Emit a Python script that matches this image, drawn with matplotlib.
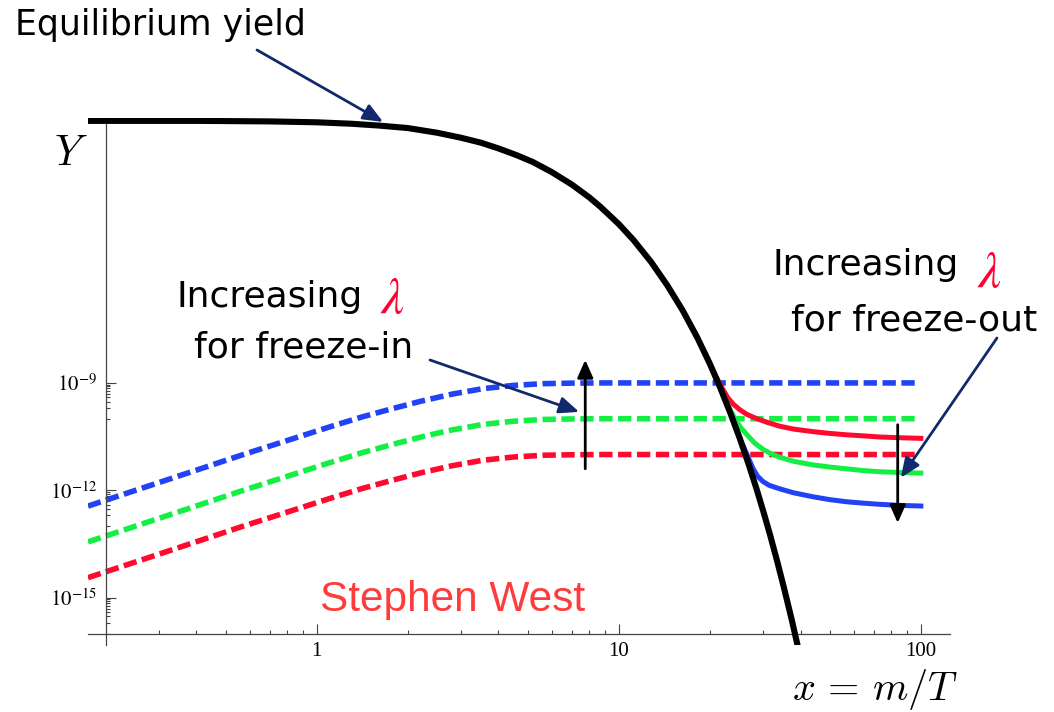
import matplotlib
matplotlib.use("Agg")
import matplotlib.pyplot as plt
from matplotlib.ticker import NullFormatter

W, H = 1054, 712

plt.rcParams["font.family"] = "Liberation Serif"
plt.rcParams["mathtext.fontset"] = "stix"

# equilibrium yield Y_eq(x), values as log10(Y)
eq_x = [0.172, 0.4, 0.7, 1.0, 1.3, 1.6, 2.0, 2.5, 3.0, 3.5, 4.0, 4.6, 5.2,
        6.0, 7.0, 8.0, 8.7, 10.0, 11.2, 12.8, 14.5, 16.3, 18.2, 20.0, 21.7,
        23.4, 25.2, 27.0, 28.7, 30.2, 31.7, 33.5, 35.2, 37.3, 39.5]
eq_logy = [-1.68, -1.68, -1.695, -1.72, -1.76, -1.81, -1.88, -2.01, -2.15,
           -2.29, -2.45, -2.64, -2.83, -3.11, -3.46, -3.82, -4.08, -4.56,
           -5.01, -5.62, -6.28, -6.98, -7.73, -8.45, -9.14, -9.83, -10.56,
           -11.30, -12.0, -12.62, -13.24, -13.99, -14.70, -15.57, -16.49]

# freeze-in yields (dashed)
fi_x = [0.175, 0.224, 0.282, 0.355, 0.447, 0.562, 0.708, 0.891, 1.122, 1.413,
        1.778, 2.239, 2.818, 3.548, 4.467, 5.623, 7.079, 8.913, 95.5]
fi_blue_logy = [-12.44, -12.14, -11.86, -11.58, -11.30, -11.02, -10.75, -10.48,
                -10.21, -9.95, -9.72, -9.50, -9.31, -9.16, -9.07, -9.02,
                -9.005, -9.0, -9.0]
fi_green_logy = [-13.44, -13.14, -12.86, -12.58, -12.30, -12.02, -11.75, -11.48,
                 -11.21, -10.95, -10.72, -10.50, -10.31, -10.16, -10.07, -10.02,
                 -10.005, -10.0, -10.0]
fi_red_logy = [-14.44, -14.14, -13.86, -13.58, -13.30, -13.02, -12.75, -12.48,
               -12.21, -11.95, -11.72, -11.50, -11.31, -11.16, -11.07, -11.02,
               -11.005, -11.0, -11.0]

# freeze-out yields (solid)
fo_red_x = [19.0, 20.0, 21.0, 22.0, 23.0, 24.0, 25.2, 26.6, 28.5, 31.0, 34.2,
            38.0, 44.0, 50.0, 57.0, 65.0, 73.0, 85.0, 102.0]
fo_red_logy = [-8.05, -8.45, -8.82, -9.14, -9.42, -9.60, -9.75, -9.88, -9.99,
               -10.10, -10.21, -10.29, -10.36, -10.41, -10.45, -10.48, -10.51,
               -10.53, -10.55]
fo_green_x = [19.0, 20.0, 21.7, 23.0, 24.0, 25.2, 26.6, 28.2, 30.1, 32.0, 34.2,
              38.0, 44.0, 50.0, 57.0, 65.0, 73.0, 85.0, 102.0]
fo_green_logy = [-8.05, -8.45, -9.14, -9.62, -9.93, -10.22, -10.45, -10.68,
                 -10.86, -10.98, -11.08, -11.19, -11.29, -11.35, -11.40, -11.45,
                 -11.48, -11.50, -11.52]
fo_blue_x = [19.0, 20.0, 21.7, 23.4, 25.2, 26.6, 27.8, 28.8, 30.0, 31.5, 34.2,
             38.0, 44.0, 50.0, 57.0, 65.0, 73.0, 85.0, 102.0]
fo_blue_logy = [-8.05, -8.45, -9.14, -9.83, -10.56, -11.0, -11.38, -11.60,
                -11.75, -11.86, -11.96, -12.07, -12.18, -12.26, -12.32, -12.36,
                -12.39, -12.42, -12.44]

x_major = [1, 10, 100]
x_major_labels = ["1", "10", "100"]
x_minor = [0.3, 0.4, 0.5, 0.6, 0.7, 0.8, 0.9, 2, 3, 4, 5, 6, 7, 8, 9,
           20, 30, 40, 50, 60, 70, 80, 90]
y_major = [1e-15, 1e-12, 1e-9]
y_major_labels = [r"$10^{-15}$", r"$10^{-12}$", r"$10^{-9}$"]
y_minor = [j * 10.0 ** e for e in (-10, -13, -16) for j in range(1, 10)]

BLUE = "#2142f5"
GREEN = "#14ef46"
RED = "#ff0a2e"
NAVY = "#102a6b"


def pow10(vals):
    return [10.0 ** v for v in vals]


fig = plt.figure(figsize=(W / 100, H / 100), dpi=100)
ax = fig.add_axes([88 / W, 67 / H, 862 / W, 527 / H])
ax.set_xscale("log")
ax.set_yscale("log")
ax.set_xlim(0.175, 125)
ax.set_ylim(10 ** -16.32, 10 ** -1.6)

for logy, c in ((fi_blue_logy, BLUE), (fi_green_logy, GREEN), (fi_red_logy, RED)):
    ax.plot(fi_x, pow10(logy), color=c, lw=4, dashes=(2.4, 1.0),
            dash_capstyle="butt", solid_joinstyle="round")

for xs, logy, c in ((fo_red_x, fo_red_logy, RED),
                    (fo_green_x, fo_green_logy, GREEN),
                    (fo_blue_x, fo_blue_logy, BLUE)):
    ax.plot(xs, pow10(logy), color=c, lw=3.6, solid_capstyle="butt",
            solid_joinstyle="round")

ax.plot(eq_x, pow10(eq_logy), color="black", lw=4.4, solid_capstyle="butt",
        solid_joinstyle="round", zorder=5)

# axes cross inside the plot range
for side in ("top", "right"):
    ax.spines[side].set_visible(False)
ax.spines["left"].set_position(("data", 0.2))
ax.spines["bottom"].set_position(("data", 1e-16))
for side in ("left", "bottom"):
    ax.spines[side].set_color("#444444")
    ax.spines[side].set_linewidth(0.9)

ax.set_xticks(x_major)
ax.set_xticklabels(x_major_labels)
ax.set_xticks(x_minor, minor=True)
ax.set_yticks(y_major)
ax.set_yticklabels(y_major_labels)
ax.set_yticks(y_minor, minor=True)
ax.xaxis.set_minor_formatter(NullFormatter())
ax.yaxis.set_minor_formatter(NullFormatter())
ax.tick_params(which="both", direction="in", color="#444444", width=0.8,
               labelsize=15)
ax.tick_params(which="major", length=7.5, pad=6)
ax.tick_params(which="minor", length=3)

# axis labels
fig.text(71 / W, 1 - 155 / H, r"$Y$", fontsize=30, math_fontfamily="cm",
         ha="center", va="center")
fig.text(875 / W, 1 - 690 / H, r"$x\,=\,m/T$", fontsize=29, math_fontfamily="cm",
         ha="center", va="center")


def label(x, y, s, **kw):
    fig.text(x / W, 1 - y / H, s, va="baseline", ha="left", **kw)


txt = dict(fontsize=26, family="DejaVu Sans", color="black")
lam = dict(fontsize=37, color="#ff0033")
label(15, 35, "Equilibrium yield", fontsize=25, family="DejaVu Sans")
label(177, 307, "Increasing", **txt)
label(380, 313, r"$\lambda$", **lam)
label(194, 357, "for freeze-in", **txt)
label(772, 275, "Increasing", **txt)
label(977, 287, r"$\lambda$", **lam)
label(791, 330, "for freeze-out", **txt)
label(320, 611, "Stephen West", fontsize=30.5, family="Liberation Sans",
      color="#ff3c3c")

navy_arrow = dict(arrowstyle="-|>,head_length=1.0,head_width=0.42",
                  color=NAVY, lw=2.0, mutation_scale=12, shrinkA=0, shrinkB=0)
black_arrow = dict(arrowstyle="-|>,head_length=0.9,head_width=0.4",
                   color="black", lw=2.0, mutation_scale=12, shrinkA=0, shrinkB=0)

ax.annotate("", xy=(1.66, 1.95e-2), xycoords="data",
            xytext=(257, H - 50), textcoords="figure pixels",
            arrowprops=navy_arrow, annotation_clip=False)
ax.annotate("", xy=(7.4, 1.55e-10), xycoords="data",
            xytext=(430, H - 360), textcoords="figure pixels",
            arrowprops=navy_arrow, annotation_clip=False)
ax.annotate("", xy=(85.9, 2.24e-12), xycoords="data",
            xytext=(997, H - 338), textcoords="figure pixels",
            arrowprops=navy_arrow, annotation_clip=False)

ax.annotate("", xy=(7.75, 4.4e-9), xytext=(7.75, 4.0e-12),
            arrowprops=black_arrow, zorder=6)
ax.annotate("", xy=(83.9, 1.23e-13), xytext=(83.9, 6.8e-11),
            arrowprops=black_arrow, zorder=6)

fig.savefig("out.png", dpi=100)
